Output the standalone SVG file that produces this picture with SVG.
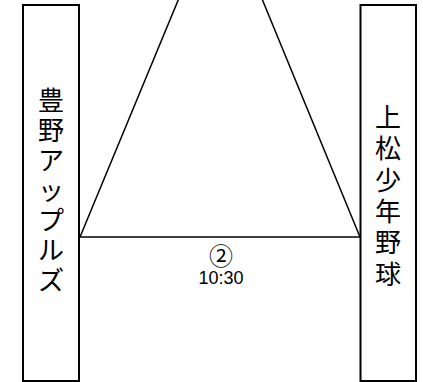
<svg xmlns="http://www.w3.org/2000/svg" width="423" height="382" viewBox="0 0 423 382">
<style>
.box{fill:#fff;stroke:#000;stroke-width:2}
.line{fill:none;stroke:#000;stroke-width:1.5}
.jp{font-family:"Noto Sans CJK JP","Noto Sans CJK SC",sans-serif;font-size:26px;fill:#000;text-anchor:middle}
.lbl{font-family:"Liberation Sans","Noto Sans CJK JP",sans-serif;font-size:18px;fill:#000;text-anchor:middle}
.circ{font-family:"Noto Sans CJK JP",sans-serif;font-size:24px;fill:#000;text-anchor:middle}
</style>
<rect width="423" height="382" fill="#fff"/>
<g id="connectors">
<polyline class="line" points="80,237 220.5,-102 360,237"/>
<line class="line" x1="80" y1="237" x2="360" y2="237"/>
<text class="circ" x="221" y="265">②</text>
<text class="lbl" x="221" y="284">10:30</text>
</g>
<g id="node-toyono">
<rect class="box" x="23" y="5" width="56" height="376"/>
<text class="jp"><tspan x="51" y="110">豊</tspan><tspan x="51" y="140">野</tspan><tspan x="51" y="170">ア</tspan><tspan x="51" y="200">ッ</tspan><tspan x="51" y="230">プ</tspan><tspan x="51" y="260">ル</tspan><tspan x="51" y="290">ズ</tspan></text>
</g>
<g id="node-uematsu">
<rect class="box" x="360.5" y="5" width="55.5" height="376"/>
<text class="jp"><tspan x="388" y="127">上</tspan><tspan x="388" y="158">松</tspan><tspan x="388" y="190">少</tspan><tspan x="388" y="221">年</tspan><tspan x="388" y="252">野</tspan><tspan x="388" y="284">球</tspan></text>
</g>
</svg>
